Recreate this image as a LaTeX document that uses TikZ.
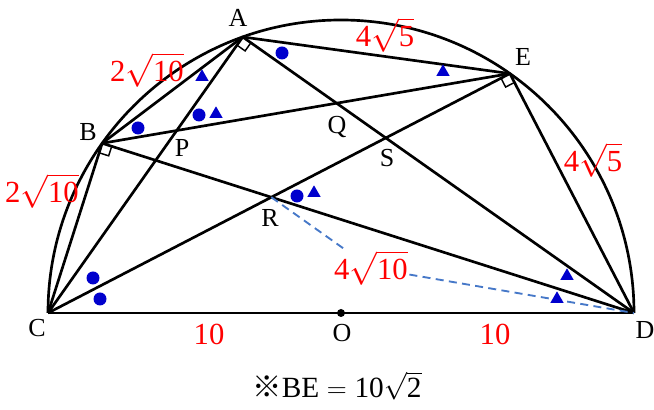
\documentclass[tikz,border=0pt]{standalone}
\usepackage{fontspec}
\setmainfont{Liberation Serif}
\newfontfamily\cjkfont{Noto Sans CJK JP}
\usetikzlibrary{calc,shapes.geometric}
\definecolor{mblue}{RGB}{0,0,205}
\definecolor{dblue}{RGB}{70,120,200}
\begin{document}
\begin{tikzpicture}[x=0.75pt,y=0.75pt,
  geo/.style={line width=2pt, line join=round},
  lab/.style={font=\fontsize{19.5}{20}\selectfont, inner sep=0pt},
  len/.style={text=red, font=\fontsize{23}{24}\selectfont, inner sep=1pt},
  bdot/.style={circle, fill=mblue, inner sep=0pt, minimum size=9.75pt},
  btri/.style={regular polygon, regular polygon sides=3, fill=mblue, inner sep=0pt, minimum size=11.5pt},
  rmark/.style={line width=1.1pt},
  dsh/.style={dblue, line width=1.4pt, dash pattern=on 6pt off 4pt}]
\useasboundingbox (0,0) rectangle (654,410);
\coordinate (O) at (341,97);
\coordinate (C) at (48,97);
\coordinate (D) at (634,97);
\coordinate (A) at ($(O)+(109.6:293)$);
\coordinate (B) at ($(O)+(144.6:293)$);
\coordinate (E) at ($(O)+(54.8:293)$);
\coordinate (R) at (intersection of C--E and B--D);
% circle and chords
\draw[geo] (D) arc[start angle=0, end angle=180, radius=219.75pt];
\draw[geo] (C) -- (D);
\draw[geo] (C) -- (B) -- (A) -- (E) -- (D);
\draw[geo] (C) -- (A) -- (D);
\draw[geo] (C) -- (E);
\draw[geo] (B) -- (E);
\draw[geo] (B) -- (D);
% right angle marks
\foreach \V/\n in {A/a,B/b,E/e}{
  \coordinate (\n1) at ($(\V)!7.5pt!(C)$);
  \coordinate (\n2) at ($(\V)!7.5pt!(D)$);
  \draw[rmark] (\n1) -- ($(\n1)+(\n2)-(\V)$) -- (\n2);
}
\node[circle, fill=black, inner sep=0pt, minimum size=6pt] (Odot) at (O) {};
% point labels
\node[lab] (lA) at (238,392) {A};
\node[lab] (lB) at (88,278) {B};
\node[lab] (lP) at (182,262) {P};
\node[lab] (lQ) at (337,283) {Q};
\node[lab] (lS) at (387,252) {S};
\node[lab] (lE) at (523,353) {E};
\node[lab] (lR) at (270,192) {R};
\node[lab] (lC) at (37,82) {C};
\node[lab] (lO) at (342,77) {O};
\node[lab] (lD) at (645,80) {D};
% length labels
\node[len] (L1) at (147,340) {2$\sqrt{\mbox{10}}$};
\node[len] (L2) at (42,219) {2$\sqrt{\mbox{10}}$};
\node[len] (L3) at (385,375) {4$\sqrt{\mbox{5}}$};
\node[len] (L5) at (593,250) {4$\sqrt{\mbox{5}}$};
\node[len] (L6) at (209,76) {10};
\node[len] (L7) at (495,76) {10};
\node[len] (L4) at (371,142) {4$\sqrt{\mbox{10}}$};
\draw[dsh] (R) -- (L4) -- (D);
% angle markers
\node[bdot] (d1) at (282,357) {};
\node[btri] (t1) at (202,333) {};
\node[bdot] (d2) at (199,295) {};
\node[btri] (t2) at (216,296) {};
\node[bdot] (d3) at (138,282) {};
\node[bdot] (d4) at (297,214) {};
\node[btri] (t3) at (314,217) {};
\node[btri] (t4) at (443,338) {};
\node[bdot] (d5) at (93,132) {};
\node[bdot] (d6) at (100,111) {};
\node[btri] (t5) at (567,134) {};
\node[btri] (t6) at (557,111) {};
% footer
\node[font=\fontsize{22}{24}\selectfont, inner sep=0pt] (foot) at (337,24) {{\cjkfont ※}BE${}={}$10$\sqrt{\mbox{2}}$};
\end{tikzpicture}
\end{document}
